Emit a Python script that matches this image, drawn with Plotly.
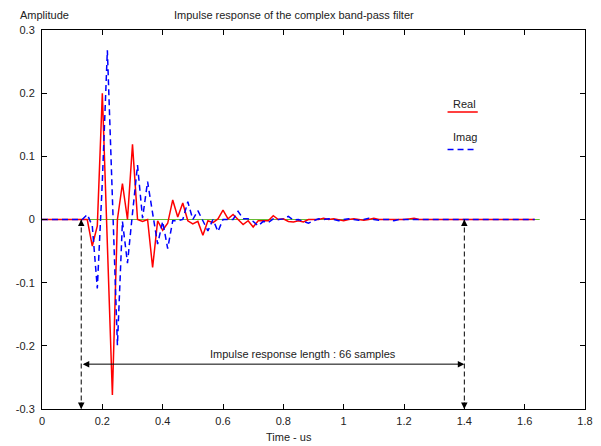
import plotly.graph_objects as go

# ---- data ----
dt_us = 1.0 / 60.0  # sample period (us)

real_part = [
    0, 0, 0, 0, 0, 0, 0, 0, 0, 0,
    -0.042, -0.010, 0.200, -0.030, -0.278, 0.000, 0.057, 0.000, 0.119, 0.000,
    -0.003, 0.000, -0.076, -0.002, -0.017, -0.006, 0.031, 0.004, 0.026, -0.002,
    -0.007, -0.003, -0.025, -0.002, -0.005, 0.001, 0.015, 0.001, 0.008, 0.000,
    -0.008, -0.002, -0.012, -0.002, -0.002, -0.002, 0.006, 0.000, 0.001, -0.003,
    -0.004, -0.002, -0.004, 0.000, 0.000, 0.000, 0.002, 0.000, 0.001, 0.000,
    -0.002, 0.000, 0.001, 0.000, -0.001, 0.000, 0.002, 0.000, 0.000, -0.001,
    0.000, 0.000, 0.000, 0.001, 0.002, 0.000, 0, 0, 0, 0,
    0, 0, 0, 0, 0, 0, 0, 0, 0, 0,
    0, 0, 0, 0, 0, 0, 0, 0, 0,
]

imag_part = [
    0, 0, 0, 0, 0, 0, 0, 0, 0, 0.008,
    -0.010, -0.109, 0.060, 0.268, 0.030, -0.199, -0.003, -0.069, 0.010, 0.086,
    0.002, 0.060, 0.010, -0.039, -0.003, -0.046, -0.002, -0.002, 0.000, 0.028,
    0.000, 0.014, -0.002, -0.018, 0.000, -0.019, 0.000, 0.000, 0.000, 0.013,
    0.001, 0.001, -0.003, -0.010, -0.003, -0.005, 0.001, 0.000, 0.001, 0.005,
    -0.001, 0.000, -0.003, -0.006, -0.002, 0.001, 0.000, 0.001, 0.000, -0.002,
    0.000, 0.001, 0.000, -0.001, 0.000, 0.002, 0.000, -0.001, 0.000, 0.000,
    -0.002, 0.000, 0, 0, 0, 0, 0, 0, 0, 0,
    0, 0, 0, 0, 0, 0, 0, 0, 0, 0,
    0, 0, 0, 0, 0, 0, 0, 0, 0,
]

baseline = [0.0] * 100

time_us = [k * dt_us for k in range(len(baseline))]

x_tick_vals = [0, 0.2, 0.4, 0.6, 0.8, 1.0, 1.2, 1.4, 1.6, 1.8]
x_tick_text = ["0", "0.2", "0.4", "0.6", "0.8", "1", "1.2", "1.4", "1.6", "1.8"]
y_tick_vals = [-0.3, -0.2, -0.1, 0, 0.1, 0.2, 0.3]
y_tick_text = ["-0.3", "-0.2", "-0.1", "0", "0.1", "0.2", "0.3"]

start_t = 0.13
end_t = 1.40
span_y = -0.229
span_label = "Impulse response length : 66 samples"

FONT = "Liberation Sans, Arial, sans-serif"
TXT = "#222222"

fig = go.Figure()
fig.add_trace(go.Scatter(x=time_us, y=baseline, mode="lines",
                         line=dict(color="#66bb33", width=1), hoverinfo="skip"))
fig.add_trace(go.Scatter(x=time_us[:len(real_part)], y=real_part, mode="lines",
                         line=dict(color="#ff0000", width=1.5), name="Real"))
fig.add_trace(go.Scatter(x=time_us[:len(imag_part)], y=imag_part, mode="lines",
                         line=dict(color="#0000ff", width=1.5, dash="6px,4px"), name="Imag"))

# page body has an 8px margin; figure coordinates = screen coordinates - 8
OFF = 8
W, H = 601 - OFF, 446 - OFF
L, R, T, B = 28, 8, 22, 37
pw, ph = W - L - R, H - T - B


def px_x(p):  # screen px -> paper x
    return (p - OFF - L) / pw


def px_y(p):  # screen px -> paper y
    return (H - B - (p - OFF)) / ph


annotations = [
    dict(text="Amplitude", xref="paper", yref="paper", x=px_x(11), y=px_y(15),
         xanchor="left", yanchor="middle", showarrow=False),
    dict(text="Impulse response of the complex band-pass filter", xref="paper", yref="paper",
         x=px_x(294.5), y=px_y(15), xanchor="center", yanchor="middle", showarrow=False),
    dict(text="Time - us", xref="paper", yref="paper", x=px_x(289), y=px_y(437),
         xanchor="center", yanchor="middle", showarrow=False),
    dict(text="Real", xref="paper", yref="paper", x=px_x(456), y=px_y(104),
         xanchor="left", yanchor="middle", showarrow=False),
    dict(text="Imag", xref="paper", yref="paper", x=px_x(456), y=px_y(137),
         xanchor="left", yanchor="middle", showarrow=False),
    dict(text=span_label, xref="x", yref="y", x=0.866, y=-0.213,
         xanchor="center", yanchor="middle", showarrow=False),
    # horizontal double arrow
    dict(text="", xref="x", yref="y", axref="x", ayref="y",
         x=end_t, y=span_y, ax=start_t, ay=span_y, showarrow=True,
         arrowside="end+start", arrowhead=2, startarrowhead=2,
         arrowsize=1.3, startarrowsize=1.3, arrowwidth=1, arrowcolor="black"),
]
for xt in (start_t, end_t):
    annotations.append(dict(text="", xref="x", yref="y", x=xt, y=0, ax=0, ay=8,
                            showarrow=True, arrowhead=2, arrowsize=1.3, arrowwidth=1,
                            arrowcolor="black"))
    annotations.append(dict(text="", xref="x", yref="y", x=xt, y=-0.3, ax=0, ay=-8,
                            showarrow=True, arrowhead=2, arrowsize=1.3, arrowwidth=1,
                            arrowcolor="black"))

shapes = [
    dict(type="line", xref="x", yref="y", x0=xt, x1=xt, y0=0, y1=-0.3,
         line=dict(color="black", width=1, dash="5px,3px"))
    for xt in (start_t, end_t)
]
shapes += [
    dict(type="line", xref="paper", yref="paper", x0=px_x(452), x1=px_x(483),
         y0=px_y(112), y1=px_y(112), line=dict(color="#ff0000", width=1.5)),
    dict(type="line", xref="paper", yref="paper", x0=px_x(452), x1=px_x(482),
         y0=px_y(149.5), y1=px_y(149.5), line=dict(color="#0000ff", width=1.5, dash="6px,4px")),
]

axis_common = dict(showgrid=False, zeroline=False, showline=True, linecolor="black",
                   linewidth=1, mirror="allticks", ticks="inside", ticklen=5,
                   tickcolor="black", tickfont=dict(family=FONT, size=11, color=TXT))

fig.update_layout(
    width=W, height=H,
    margin=dict(l=L, r=R, t=T, b=B, pad=0),
    paper_bgcolor="white", plot_bgcolor="white",
    showlegend=False,
    font=dict(family=FONT, size=11, color=TXT),
    xaxis=dict(range=[0, 1.8], tickmode="array", tickvals=x_tick_vals, ticktext=x_tick_text,
               ticklabelstandoff=2, **axis_common),
    yaxis=dict(range=[-0.3, 0.3], tickmode="array", tickvals=y_tick_vals, ticktext=y_tick_text,
               ticklabelstandoff=4, **axis_common),
    annotations=annotations,
    shapes=shapes,
)

fig.write_html("out.html")
